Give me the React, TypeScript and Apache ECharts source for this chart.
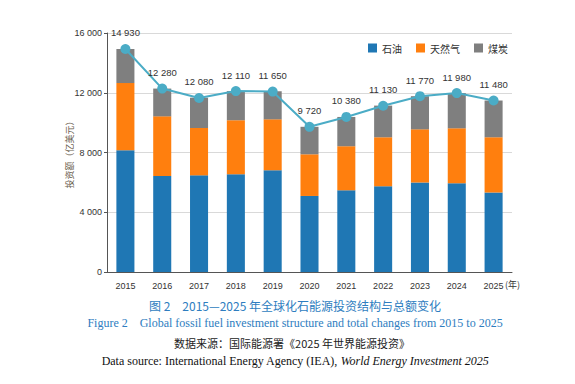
import React, { useEffect, useRef } from "react";
import * as echarts from "echarts";

const years = ["2015", "2016", "2017", "2018", "2019", "2020", "2021", "2022", "2023", "2024", "2025"];
const oil = [8150, 6430, 6470, 6540, 6810, 5090, 5470, 5740, 6000, 5940, 5330];
const gas = [4500, 3990, 3170, 3620, 3410, 2790, 2950, 3280, 3550, 3680, 3690];
const coal = [2280, 1860, 2030, 1950, 1880, 1840, 1960, 2120, 2220, 2360, 2460];
const totalLine = [14930, 12280, 11650, 12110, 12080, 9720, 10380, 11130, 11770, 11980, 11480];
const totalLabels = ["14 930", "12 280", "12 080", "12 110", "11 650", "9 720", "10 380", "11 130", "11 770", "11 980", "11 480"];
const yTicks = { min: 0, max: 16000, interval: 4000 };

const fmt = (v: number) => {
  const s = String(v);
  return s.length > 3 ? s.slice(0, s.length - 3) + " " + s.slice(s.length - 3) : s;
};

export default function App() {
  const ref = useRef<HTMLDivElement>(null);
  useEffect(() => {
    if (!ref.current) return;
    const chart = echarts.init(ref.current, null, { renderer: "svg" });
    const sans = "Liberation Sans, Arial, sans-serif";
    const serif = "Liberation Serif, 'Times New Roman', serif";
    const cjk = "'Noto Sans CJK SC', sans-serif";
    chart.setOption({
      animation: false,
      backgroundColor: "#fff",
      textStyle: { fontFamily: sans },
      grid: { left: 107, top: 33, width: 405, height: 239 },
      legend: {
        right: 62,
        top: 38,
        itemWidth: 9,
        itemHeight: 9,
        itemGap: 14,
        icon: "rect",
        textStyle: { fontSize: 10, color: "#333", fontFamily: cjk },
        data: ["石油", "天然气", "煤炭"],
      },
      xAxis: {
        type: "category",
        data: years,
        axisLine: { lineStyle: { color: "#555", width: 1 } },
        axisTick: { alignWithLabel: true, length: 4, lineStyle: { color: "#555" } },
        axisLabel: { fontSize: 9, color: "#333", margin: 9 },
      },
      yAxis: {
        type: "value",
        min: yTicks.min,
        max: yTicks.max,
        interval: yTicks.interval,
        name: "投资额（亿美元）",
        nameLocation: "middle",
        nameGap: 33,
        nameMoveOverlap: false,
        nameTextStyle: { fontSize: 9, color: "#6b5e4e", fontFamily: cjk },
        axisLine: { show: true, lineStyle: { color: "#555" } },
        axisTick: { show: true, length: 3, lineStyle: { color: "#555" } },
        axisLabel: { fontSize: 9, color: "#333", margin: 5, formatter: (v: number) => fmt(v) },
        splitLine: { lineStyle: { color: "#d9d9d9" } },
      },
      series: [
        { name: "石油", type: "bar", stack: "t", data: oil, barWidth: "49%", itemStyle: { color: "#1f77b4" } },
        { name: "天然气", type: "bar", stack: "t", data: gas, itemStyle: { color: "#ff7f0e" } },
        { name: "煤炭", type: "bar", stack: "t", data: coal, itemStyle: { color: "#7f7f7f" } },
        {
          name: "总额",
          type: "line",
          data: totalLine,
          symbol: "circle",
          symbolSize: 10,
          lineStyle: { color: "#4bacc6", width: 2 },
          itemStyle: { color: "#4bacc6" },
          label: {
            show: true,
            position: "top",
            distance: 6,
            fontSize: 9.5,
            color: "#333",
            formatter: (p: any) => totalLabels[p.dataIndex],
          },
          z: 5,
        },
      ],
      graphic: [
        { type: "text", left: 505, top: 280, style: { text: "(年)", fontSize: 9, fill: "#333", fontFamily: cjk } },
        {
          type: "text",
          x: 295,
          y: 305,
          style: {
            text: "图 2　2015—2025 年全球化石能源投资结构与总额变化",
            fontSize: 12,
            fill: "#2e7dc0",
            fontFamily: cjk,
            align: "center",
            verticalAlign: "middle",
          },
        },
        {
          type: "text",
          x: 295,
          y: 323,
          style: {
            text: "Figure 2    Global fossil fuel investment structure and total changes from 2015 to 2025",
            fontSize: 12,
            fill: "#2e7dc0",
            fontFamily: serif,
            align: "center",
            verticalAlign: "middle",
          },
        },
        {
          type: "text",
          x: 292,
          y: 343,
          style: {
            text: "数据来源：国际能源署《2025 年世界能源投资》",
            fontSize: 11,
            fill: "#222",
            fontFamily: cjk,
            align: "center",
            verticalAlign: "middle",
          },
        },
        {
          type: "text",
          x: 295,
          y: 361,
          style: {
            text: "{a|Data source: International Energy Agency (IEA), }{b|World Energy Investment 2025}",
            align: "center",
            verticalAlign: "middle",
            rich: {
              a: { fontSize: 12, fill: "#111", fontFamily: serif },
              b: { fontSize: 12, fill: "#111", fontFamily: serif, fontStyle: "italic" },
            },
          },
        },
      ],
    });
    return () => chart.dispose();
  }, []);
  return <div ref={ref} style={{ position: "fixed", left: 0, top: 0, width: 575, height: 384 }} />;
}
